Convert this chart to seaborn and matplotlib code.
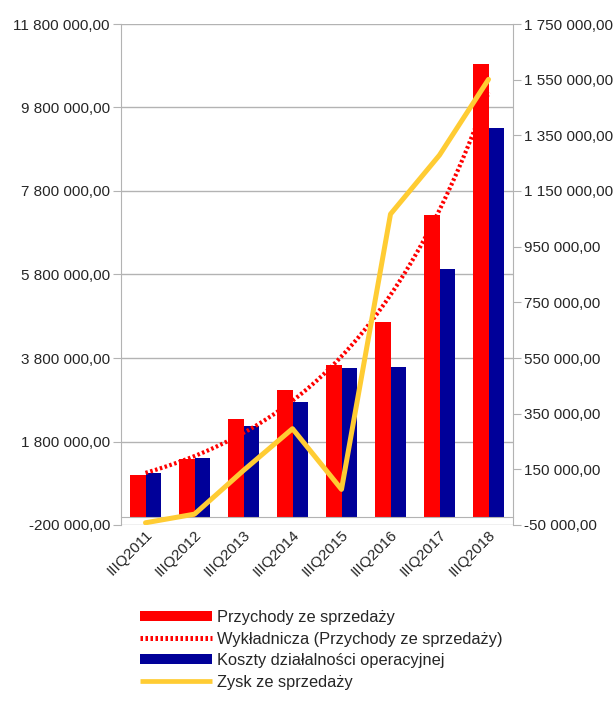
import numpy as np
import pandas as pd
import matplotlib
matplotlib.use("Agg")
import matplotlib.pyplot as plt
from matplotlib.ticker import FuncFormatter, FixedLocator
from matplotlib.lines import Line2D
import seaborn as sns

# ---- data ----
categories = ["IIIQ2011", "IIIQ2012", "IIIQ2013", "IIIQ2014",
              "IIIQ2015", "IIIQ2016", "IIIQ2017", "IIIQ2018"]
przychody = [996000, 1380000, 2330000, 3030000, 3640000, 4660000, 7220000, 10850000]
koszty = [1037000, 1400000, 2180000, 2740000, 3560000, 3590000, 5920000, 9300000]
zysk = [-42000, -11000, 146000, 296000, 78000, 1067000, 1279000, 1551000]
left_ticks = [-200000, 1800000, 3800000, 5800000, 7800000, 9800000, 11800000]
right_ticks = [-50000, 150000, 350000, 550000, 750000, 950000, 1150000, 1350000, 1550000, 1750000]

s_prz = "Przychody ze sprzedaży"
s_trend = "Wykładnicza (Przychody ze sprzedaży)"
s_kosz = "Koszty działalności operacyjnej"
s_zysk = "Zysk ze sprzedaży"

RED = "#ff0000"
BLUE = "#000099"
YELLOW = "#ffcc33"
GRID = "#b3b3b3"

sns.set_style("white")
plt.rcParams["font.family"] = ["Liberation Sans", "DejaVu Sans"]

df = pd.DataFrame({
    "kategoria": categories * 2,
    "seria": [s_prz] * len(categories) + [s_kosz] * len(categories),
    "wartosc": przychody + koszty,
})

fig = plt.figure(figsize=(6.15, 7.03), dpi=100)
ax = fig.add_axes([121 / 615, 1 - 525 / 703, (513 - 121) / 615, (525 - 24) / 703])

sns.barplot(data=df, x="kategoria", y="wartosc", hue="seria",
            hue_order=[s_prz, s_kosz], palette=[RED, BLUE],
            width=0.65, saturation=1, errorbar=None, legend=False,
            linewidth=0, ax=ax, zorder=2)

# exponential trendline of revenue
xs = np.arange(len(categories))
b, a = np.polyfit(xs, np.log(przychody), 1)
xf = np.linspace(0, len(categories) - 1, 300)
ax.plot(xf, np.exp(a + b * xf), color=RED, lw=3.0, dashes=(0.6, 0.6),
        dash_capstyle="butt", zorder=4)

ax.set_xlim(-0.5, len(categories) - 0.5)
ax.set_ylim(-200000, 11800000)
ax.yaxis.set_major_locator(FixedLocator(left_ticks))

def fmt(v, pos=None):
    s = f"{v:,.2f}"
    return s.replace(",", " ").replace(".", ",")

ax.yaxis.set_major_formatter(FuncFormatter(fmt))
ax.grid(axis="y", color=GRID, lw=1)
ax.grid(axis="x", visible=False)
ax.set_axisbelow(True)
ax.set_xlabel("")
ax.set_ylabel("")

for sp in ["top", "right"]:
    ax.spines[sp].set_visible(False)
ax.spines["left"].set_color(GRID)
ax.spines["bottom"].set_color(GRID)
ax.spines["bottom"].set_position(("data", 0))

ax.set_xticks(xs)
ax.set_xticklabels(categories, rotation=45, ha="right", rotation_mode="anchor",
                   fontsize=11)
ax.set_xticks(np.arange(-0.5, len(categories), 1.0), minor=True)
ax.tick_params(axis="x", which="major", length=0, pad=8)
ax.tick_params(axis="x", which="minor", length=6, color=GRID, width=1, direction="out")
ax.tick_params(axis="y", which="major", left=True, length=6, color=GRID,
               labelsize=11, pad=2)

ax2 = ax.twinx()
sns.lineplot(x=xs, y=zysk, color=YELLOW, lw=3.6, ax=ax2, zorder=5)
ax2.set_ylim(-50000, 1750000)
ax2.yaxis.set_major_locator(FixedLocator(right_ticks))
ax2.yaxis.set_major_formatter(FuncFormatter(fmt))
ax2.tick_params(axis="y", right=True, length=6, color=GRID, labelsize=11, pad=2)
for sp in ["top", "left", "bottom"]:
    ax2.spines[sp].set_visible(False)
ax2.spines["right"].set_color(GRID)
ax2.set_ylabel("")
ax2.grid(False)

handles = [
    Line2D([], [], color=RED, lw=7.2, solid_capstyle="butt"),
    Line2D([], [], color=RED, lw=3.6, dashes=(0.5, 0.5), dash_capstyle="butt"),
    Line2D([], [], color=BLUE, lw=7.2, solid_capstyle="butt"),
    Line2D([], [], color=YELLOW, lw=3.4, solid_capstyle="butt"),
]
labels = [s_prz, s_trend, s_kosz, s_zysk]
fig.legend(handles, labels, loc="upper left", bbox_to_anchor=(140 / 615, 1 - 610 / 703),
           frameon=False, fontsize=11.75, handlelength=4.4, handletextpad=0.3,
           labelspacing=0.4, borderpad=0, borderaxespad=0)

fig.savefig("out.png", dpi=100)
